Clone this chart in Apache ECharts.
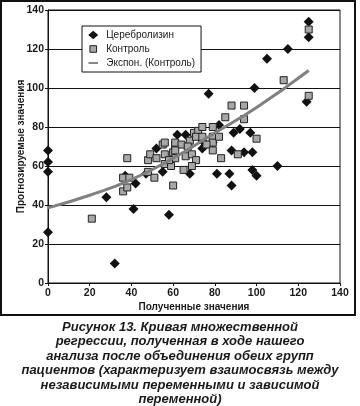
<!DOCTYPE html>
<html>
<head>
<meta charset="utf-8">
<script src="https://cdn.jsdelivr.net/npm/echarts@6/dist/echarts.min.js"></script>
<style>
html,body{margin:0;padding:0;background:#fff;}
#c{width:360px;height:406px;}
</style>
</head>
<body>
<div id="c"></div>
<script>
// Церебролизин (diamonds)
var cerebroX = [0,0,0,0,28,32,41,42,37,47,52,55,58,62,66,68,74,79,77,82,81,87,88,89,92,97,88,94,98,98,100,99,110,105,115,125,125,124,74];
var cerebroY = [68,62,57,26,44,10,38,51,55,56,69,57,35,76,76,56,73,72,97,81,56,56,50,77,79,77,68,67,67,58,55,100,60,115,120,134,126,93,69];
// Контроль (squares)
var controlX = [21,38,36,39,36,38,48,48,49,52,51,55,56,56,60,61,60,61,59,56,61,64,68,67,61,58,66,69,71,69,65,70,72,71,74,74,79,79,79,82,76,79,83,85,88,94,94,91,100,113,125,125];
var controlY = [33,64,54,54,47,49,57,63,66,64,54,71,66,61,50,71,67,64,60,72,72,71,73,70,68,63,65,66,63,60,58,77,78,75,75,80,80,75,72,75,71,68,64,85,91,91,84,66,74,104,130,96];
// Экспон. (Контроль) trend line
var trendX = [0,20,40,60,80,100,125];
var trendY = [38.5,45,53,64,77,90,109];
var axisTicks = [0,20,40,60,80,100,120,140];
var seriesNames = ['Церебролизин','Контроль','Экспон. (Контроль)'];
var caption = 'Рисунок 13. Кривая множественной\nрегрессии, полученная в ходе нашего\nанализа после объединения обеих групп\nпациентов (характеризует взаимосвязь между\nнезависимыми переменными и зависимой\nпеременной)';

function zip(a,b){return a.map(function(v,i){return [v,b[i]];});}

var chart = echarts.init(document.getElementById('c'), null, {renderer:'canvas'});
var font = 'Liberation Sans, Arial, sans-serif';
chart.setOption({
  animation:false,
  backgroundColor:'#fff',
  textStyle:{fontFamily:font},
  title:{
    text: caption,
    left:'center', top:315,
    textStyle:{fontFamily:font, fontSize:13, fontWeight:'bold', fontStyle:'italic', color:'#1a1a1a', lineHeight:14.5}
  },
  graphic:[{
    type:'rect', shape:{x:1, y:1, width:354, height:314},
    style:{fill:null, stroke:'#111', lineWidth:2}, silent:true
  }],
  legend:{
    orient:'vertical', left:82, top:26,
    padding:[4,6,4,6], itemGap:4, itemWidth:10, itemHeight:8.5,
    borderColor:'#111', borderWidth:1, backgroundColor:'#fff',
    textStyle:{fontFamily:font, fontSize:10, color:'#1a1a1a', padding:[0,0,0,3]},
    data:[
      {name:seriesNames[0], icon:'diamond'},
      {name:seriesNames[1], icon:'path://M0,0L0,0M1.5,1L8.5,1L8.5,8L1.5,8Z M10,9L10,9', itemStyle:{color:'#a8a8a8', borderColor:'#222', borderWidth:1}},
      {name:seriesNames[2], icon:'path://M0,0L0,0M0,3.5L10,3.5L10,5.5L0,5.5Z M10,9L10,9', itemStyle:{color:'#808080', borderWidth:0}}
    ]
  },
  grid:{left:48, right:20, top:10, bottom:123, show:true, borderColor:'#111', borderWidth:1},
  xAxis:{
    type:'value', min:axisTicks[0], max:axisTicks[axisTicks.length-1], interval:20,
    name:'Полученные значения', nameLocation:'middle', nameGap:19, nameMoveOverlap:false,
    nameTextStyle:{fontFamily:font, fontSize:10, fontWeight:'bold', color:'#1a1a1a'},
    axisLine:{show:true, lineStyle:{color:'#111', width:1}},
    axisTick:{show:true, length:3, lineStyle:{color:'#111'}},
    axisLabel:{fontFamily:font, fontSize:10.5, fontWeight:'bold', color:'#1a1a1a', margin:5},
    splitLine:{show:false}
  },
  yAxis:{
    type:'value', min:axisTicks[0], max:axisTicks[axisTicks.length-1], interval:20,
    name:'Прогнозируемые значения', nameLocation:'middle', nameGap:22, nameMoveOverlap:false,
    nameTextStyle:{fontFamily:font, fontSize:10, fontWeight:'bold', color:'#1a1a1a'},
    axisLine:{show:true, lineStyle:{color:'#111', width:1}},
    axisTick:{show:true, length:3, lineStyle:{color:'#111'}},
    axisLabel:{fontFamily:font, fontSize:10.5, fontWeight:'bold', color:'#1a1a1a', margin:4},
    splitLine:{show:true, lineStyle:{color:'#111', width:1}}
  },
  series:[
    {
      name:seriesNames[0], type:'scatter', symbol:'diamond', symbolSize:10,
      itemStyle:{color:'#111', opacity:1}, data:zip(cerebroX, cerebroY), z:3
    },
    {
      name:seriesNames[1], type:'scatter', symbol:'rect', symbolSize:7,
      itemStyle:{color:'#a8a8a8', borderColor:'#222', borderWidth:1, opacity:1},
      data:zip(controlX, controlY), z:4
    },
    {
      name:seriesNames[2], type:'line', smooth:true, showSymbol:false, symbol:'none',
      lineStyle:{color:'#808080', width:3}, itemStyle:{color:'#808080'},
      data:zip(trendX, trendY), z:5
    }
  ]
});
</script>
</body>
</html>
